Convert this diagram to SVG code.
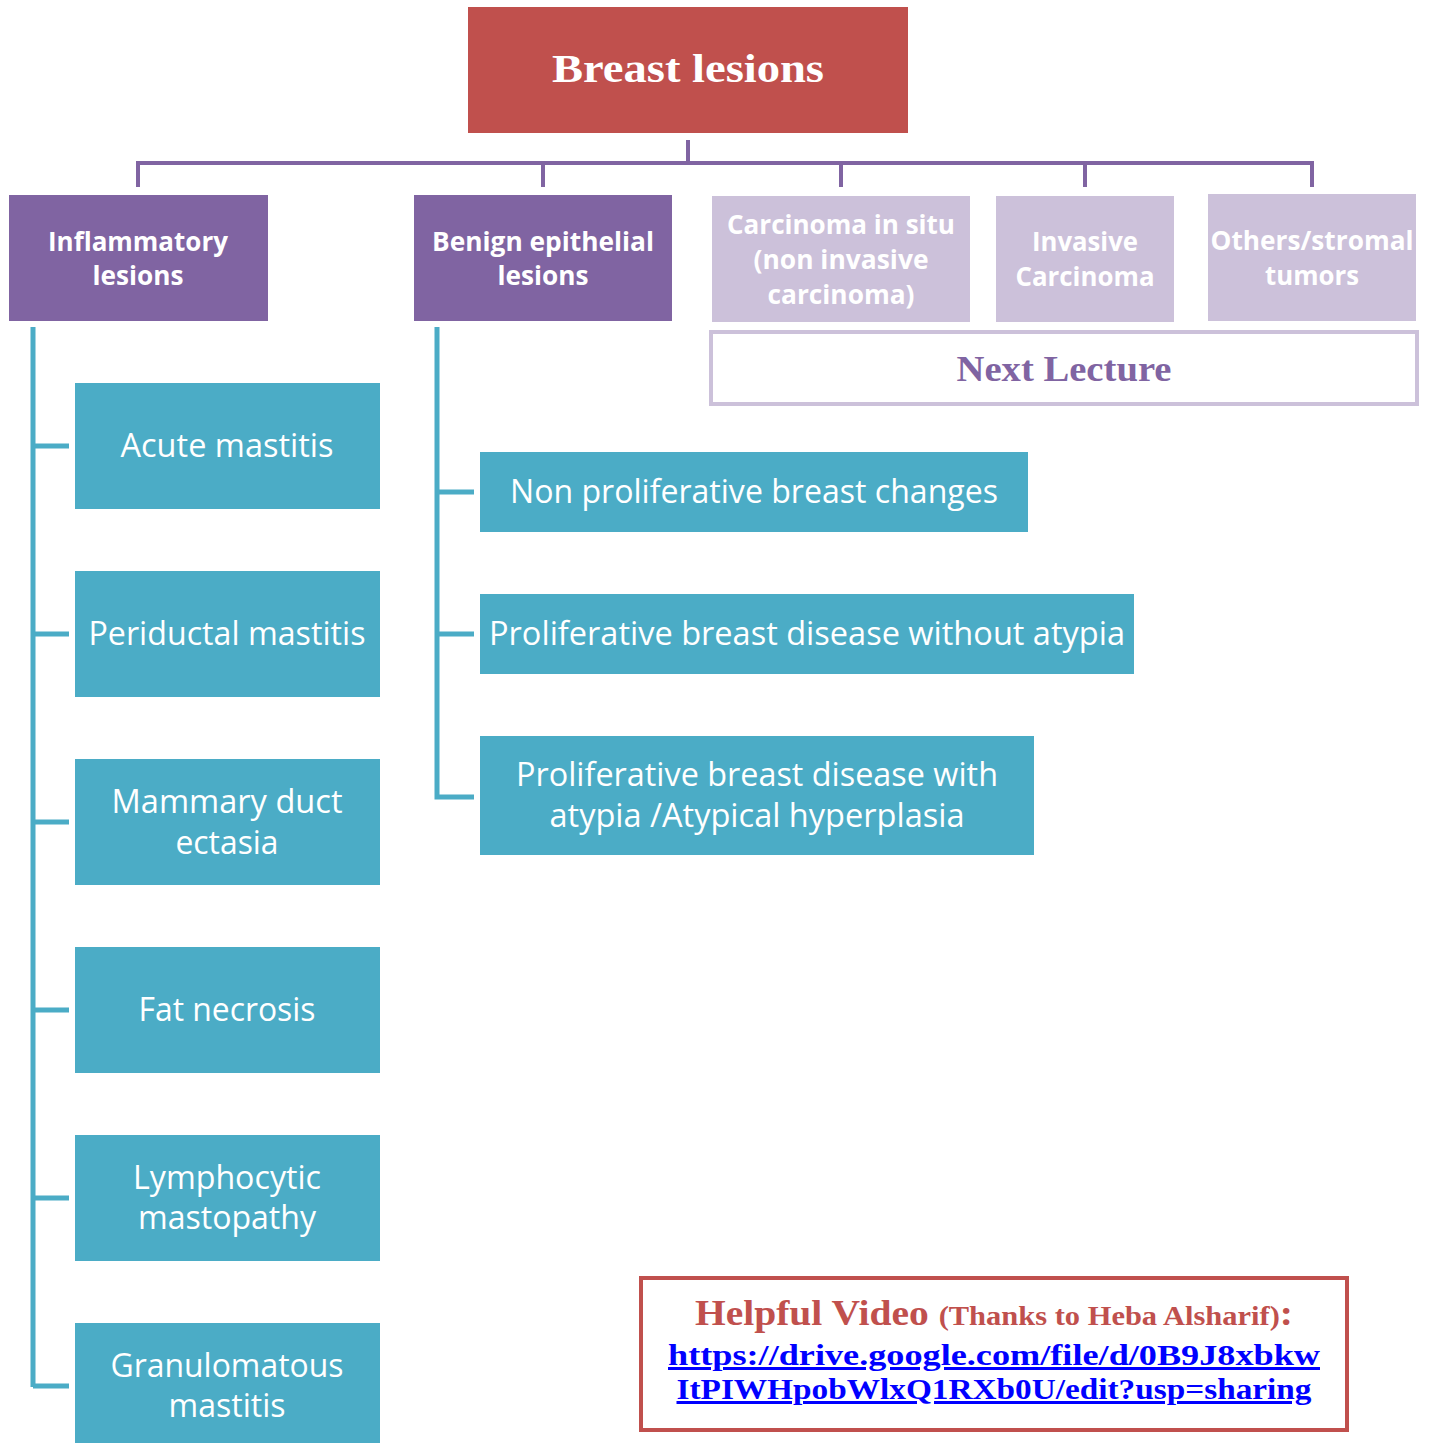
<svg xmlns="http://www.w3.org/2000/svg" width="1431" height="1443" viewBox="0 0 1431 1443">
<style>
.cal{font-family:"Open Sans","Liberation Sans",sans-serif;fill:#fff;text-anchor:middle}
.leaf{font-size:32px}
.hdr{font-size:27px;font-weight:bold}
.ser{font-family:"Liberation Serif","DejaVu Serif",serif;font-weight:bold;text-anchor:middle}
.teal{fill:#4BACC6}
.pur{fill:#8064A2}
.lpur{fill:#CCC1DA}
.cp{stroke:#8064A2;stroke-width:4;fill:none}
.ct{stroke:#4BACC6;stroke-width:5;fill:none}
.link{fill:#0000FF;font-size:30px;text-decoration:underline}
</style>
<rect width="1431" height="1443" fill="#fff"/>
<g id="connectors">
<path class="cp" d="M688 140V163M138 187V163H1312V187M543 163V187M841 163V187M1085 163V187"/>
<path class="ct" d="M33 327V1387M33 446H69M33 634H69M33 822H69M33 1010H69M33 1198H69M33 1386H69"/>
<path class="ct" d="M437 327V797H474M437 492H474M437 634H474"/>
</g>
<g id="root">
<rect x="468" y="7" width="440" height="126" fill="#C0504D"/>
<text class="ser" x="688" y="82" font-size="40" fill="#fff" textLength="272" lengthAdjust="spacingAndGlyphs">Breast lesions</text>
</g>
<g id="inflammatory">
<rect class="pur" x="9" y="195" width="259" height="126"/>
<text class="cal hdr" x="138" y="251" textLength="180" lengthAdjust="spacingAndGlyphs">Inflammatory</text>
<text class="cal hdr" x="138" y="285" textLength="91" lengthAdjust="spacingAndGlyphs">lesions</text>
</g>
<g id="benign">
<rect class="pur" x="414" y="195" width="258" height="126"/>
<text class="cal hdr" x="543" y="251" textLength="222" lengthAdjust="spacingAndGlyphs">Benign epithelial</text>
<text class="cal hdr" x="543" y="285" textLength="91" lengthAdjust="spacingAndGlyphs">lesions</text>
</g>
<g id="cis">
<rect class="lpur" x="712" y="196" width="258" height="126"/>
<text class="cal hdr" x="841" y="234" textLength="228" lengthAdjust="spacingAndGlyphs">Carcinoma in situ</text>
<text class="cal hdr" x="841" y="269" textLength="175" lengthAdjust="spacingAndGlyphs">(non invasive</text>
<text class="cal hdr" x="841" y="304" textLength="147" lengthAdjust="spacingAndGlyphs">carcinoma)</text>
</g>
<g id="invasive">
<rect class="lpur" x="996" y="196" width="178" height="126"/>
<text class="cal hdr" x="1085" y="251" textLength="106" lengthAdjust="spacingAndGlyphs">Invasive</text>
<text class="cal hdr" x="1085" y="286" textLength="139" lengthAdjust="spacingAndGlyphs">Carcinoma</text>
</g>
<g id="others">
<rect class="lpur" x="1208" y="194" width="208" height="127"/>
<text class="cal hdr" x="1312" y="250" textLength="203" lengthAdjust="spacingAndGlyphs">Others/stromal</text>
<text class="cal hdr" x="1312" y="285" textLength="94" lengthAdjust="spacingAndGlyphs">tumors</text>
</g>
<g id="next-lecture">
<rect x="711" y="332" width="706" height="72" fill="#fff" stroke="#CCC1DA" stroke-width="4"/>
<text class="ser" x="1064" y="381" font-size="36" fill="#8064A2" textLength="215" lengthAdjust="spacingAndGlyphs">Next Lecture</text>
</g>
<g id="acute">
<rect class="teal" x="75" y="383" width="305" height="126"/>
<text class="cal leaf" x="227" y="457" textLength="213" lengthAdjust="spacingAndGlyphs">Acute mastitis</text>
</g>
<g id="periductal">
<rect class="teal" x="75" y="571" width="305" height="126"/>
<text class="cal leaf" x="227" y="645" textLength="277" lengthAdjust="spacingAndGlyphs">Periductal mastitis</text>
</g>
<g id="mammary">
<rect class="teal" x="75" y="759" width="305" height="126"/>
<text class="cal leaf" x="227" y="813" textLength="231" lengthAdjust="spacingAndGlyphs">Mammary duct</text>
<text class="cal leaf" x="227" y="854" textLength="103" lengthAdjust="spacingAndGlyphs">ectasia</text>
</g>
<g id="fat">
<rect class="teal" x="75" y="947" width="305" height="126"/>
<text class="cal leaf" x="227" y="1021" textLength="177" lengthAdjust="spacingAndGlyphs">Fat necrosis</text>
</g>
<g id="lymphocytic">
<rect class="teal" x="75" y="1135" width="305" height="126"/>
<text class="cal leaf" x="227" y="1189" textLength="188" lengthAdjust="spacingAndGlyphs">Lymphocytic</text>
<text class="cal leaf" x="227" y="1229" textLength="178" lengthAdjust="spacingAndGlyphs">mastopathy</text>
</g>
<g id="granulomatous">
<rect class="teal" x="75" y="1323" width="305" height="126"/>
<text class="cal leaf" x="227" y="1377" textLength="233" lengthAdjust="spacingAndGlyphs">Granulomatous</text>
<text class="cal leaf" x="227" y="1417" textLength="117" lengthAdjust="spacingAndGlyphs">mastitis</text>
</g>
<g id="nonprolif">
<rect class="teal" x="480" y="452" width="548" height="80"/>
<text class="cal leaf" x="754" y="503" textLength="488" lengthAdjust="spacingAndGlyphs">Non proliferative breast changes</text>
</g>
<g id="prolif-without">
<rect class="teal" x="480" y="594" width="654" height="80"/>
<text class="cal leaf" x="807" y="645" textLength="636" lengthAdjust="spacingAndGlyphs">Proliferative breast disease without atypia</text>
</g>
<g id="prolif-with">
<rect class="teal" x="480" y="736" width="554" height="119"/>
<text class="cal leaf" x="757" y="786" textLength="482" lengthAdjust="spacingAndGlyphs">Proliferative breast disease with</text>
<text class="cal leaf" x="757" y="827" textLength="415" lengthAdjust="spacingAndGlyphs">atypia /Atypical hyperplasia</text>
</g>
<g id="helpful-video">
<rect x="641" y="1278" width="706" height="152" fill="#fff" stroke="#C0504D" stroke-width="4"/>
<text class="ser" x="994" y="1325" fill="#C0504D" textLength="598" lengthAdjust="spacingAndGlyphs"><tspan font-size="35">Helpful Video </tspan><tspan font-size="27">(Thanks to Heba Alsharif)</tspan><tspan font-size="35">:</tspan></text>
<text class="ser link" x="994" y="1365" textLength="652" lengthAdjust="spacingAndGlyphs">https://drive.google.com/file/d/0B9J8xbkw</text>
<text class="ser link" x="994" y="1399" textLength="635" lengthAdjust="spacingAndGlyphs">ItPIWHpobWlxQ1RXb0U/edit?usp=sharing</text>
</g>
</svg>
